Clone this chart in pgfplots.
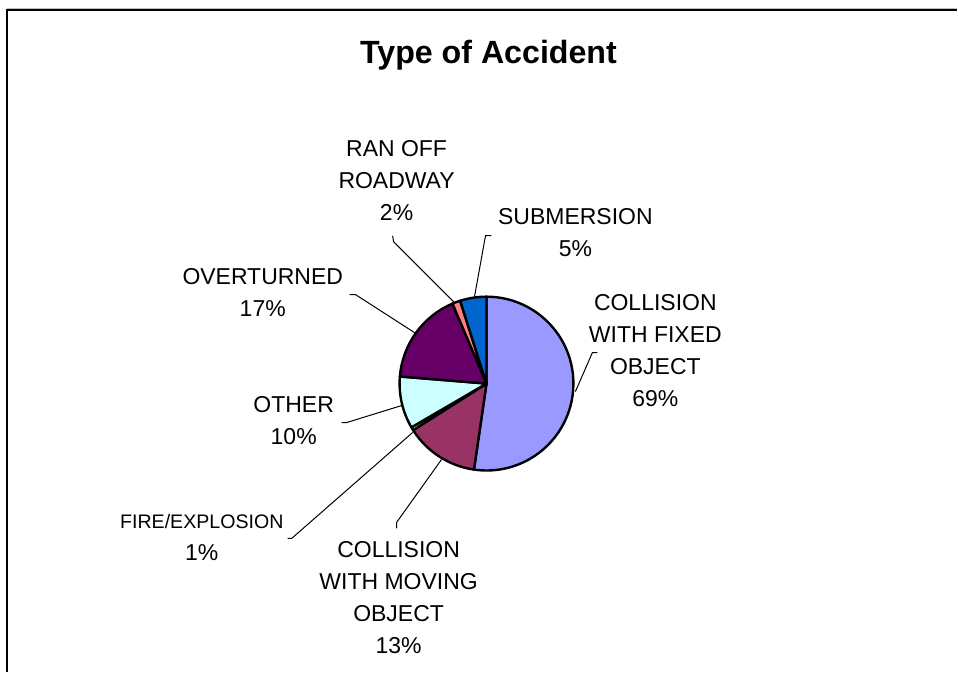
\documentclass[border=0pt]{standalone}
\usepackage{pgfplots}
\usepackage{pgfplotstable}
\pgfplotsset{compat=1.18}
\usepackage{fontspec}
\setmainfont{Liberation Sans}
\definecolor{cFixed}{HTML}{9999FF}
\definecolor{cMoving}{HTML}{993366}
\definecolor{cFire}{HTML}{FFFFCC}
\definecolor{cOther}{HTML}{CCFFFF}
\definecolor{cOver}{HTML}{660066}
\definecolor{cRan}{HTML}{FF8080}
\definecolor{cSub}{HTML}{0066CC}
\pgfplotstableread{
name value color
fixed 52.3 cFixed
moving 13.7 cMoving
fire 0.6 cFire
other 9.7 cOther
overturned 17.3 cOver
ranoff 1.5 cRan
submersion 4.9 cSub
}\piedata
\begin{document}
\begin{tikzpicture}
\begin{axis}[width=479pt,height=336.5pt,scale only axis,
  xmin=0,xmax=958,ymin=0,ymax=673,hide axis,clip=false]
\path (axis cs:0,0) (axis cs:958,673);
% frame
\draw[black!25,line width=0.5pt] (axis cs:7,664.5) -- (axis cs:958,664.5);
\draw[black,line width=1pt] (axis cs:7.5,663) -- (axis cs:958,663);
\draw[black,line width=1pt] (axis cs:7.5,663.5) -- (axis cs:7.5,0);
% pie
\def\cum{0}
\pgfplotsforeachungrouped \i in {0,1,2,3,4,5,6}{%
  \pgfplotstablegetelem{\i}{value}\of\piedata \let\v\pgfplotsretval
  \pgfplotstablegetelem{\i}{color}\of\piedata \let\c\pgfplotsretval
  \pgfmathsetmacro\a{90-3.6*\cum}%
  \pgfmathsetmacro\b{\a-3.6*\v}%
  \edef\temp{\noexpand\filldraw[fill=\c,draw=black,line width=1.2pt,line join=round] (axis cs:487,289) -- ++(\a:43.5pt) arc[start angle=\a,end angle=\b,radius=43.5pt] -- cycle;}%
  \temp
  \pgfmathsetmacro\cum{\cum+\v}%
}
% leader lines
\draw[black,line width=0.5pt] (axis cs:393,437) -- (axis cs:394,431) -- (axis cs:455,370);
\draw[black,line width=0.5pt] (axis cs:492,437) -- (axis cs:486,437) -- (axis cs:475,376);
\draw[black,line width=0.5pt] (axis cs:598,320) -- (axis cs:593,320) -- (axis cs:576,281);
\draw[black,line width=0.5pt] (axis cs:350,378) -- (axis cs:356,378) -- (axis cs:415,340);
\draw[black,line width=0.5pt] (axis cs:342,250) -- (axis cs:347,250) -- (axis cs:402,267);
\draw[black,line width=0.5pt] (axis cs:288,134) -- (axis cs:292,134) -- (axis cs:413,240);
\draw[black,line width=0.5pt] (axis cs:397,144) -- (axis cs:397,150) -- (axis cs:442,213);
% labels
\tikzset{lbl/.style={inner sep=0pt,align=center,font=\fontsize{11.5}{16}\selectfont}}
\node[inner sep=0pt,font=\fontsize{16.1}{18}\selectfont\bfseries] at (axis cs:489,618) {Type of Accident};
\node[lbl] at (axis cs:397,492.5) {RAN OFF\\ROADWAY\\2\%};
\node[lbl] at (axis cs:576,440) {SUBMERSION\\5\%};
\node[lbl] at (axis cs:656,322) {COLLISION\\WITH FIXED\\OBJECT\\69\%};
\node[lbl] at (axis cs:263,380) {OVERTURNED\\17\%};
\node[lbl] at (axis cs:294,252) {OTHER\\10\%};
\node[lbl] at (axis cs:202,135) {{\fontsize{9.8}{16}\selectfont FIRE/EXPLOSION}\\1\%};
\node[lbl] at (axis cs:399,75) {COLLISION\\WITH MOVING\\OBJECT\\13\%};
\end{axis}
\end{tikzpicture}
\end{document}
